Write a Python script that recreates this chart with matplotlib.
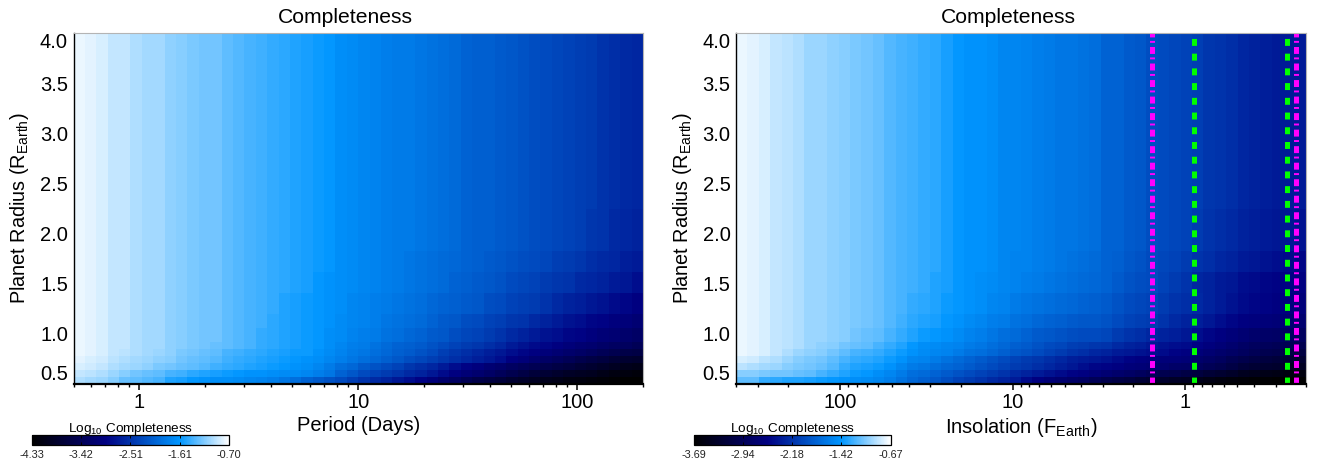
import numpy as np
import matplotlib
matplotlib.use("Agg")
import matplotlib.pyplot as plt
from matplotlib.colors import LinearSegmentedColormap, Normalize
from matplotlib.cm import ScalarMappable
from matplotlib.ticker import FixedLocator, NullFormatter, FixedFormatter

plt.rcParams["font.family"] = ["Liberation Sans", "DejaVu Sans"]
plt.rcParams["mathtext.default"] = "regular"
plt.rcParams["lines.scale_dashes"] = False

W, H = 1318, 468

# colour bar ranges and labels
LEFT_RANGE = (-4.33, -0.70)
RIGHT_RANGE = (-3.69, -0.67)
LEFT_CB_LABELS = ["-4.33", "-3.42", "-2.51", "-1.61", "-0.70"]
RIGHT_CB_LABELS = ["-3.69", "-2.94", "-2.18", "-1.42", "-0.67"]

# axis ranges
PERIOD_LIM = (0.5, 200)
INSOL_LIM = (400, 0.2)
RADIUS_LIM = (0.5, 4.0)
N_COLS = 50
RADIUS_STEP = 0.07

# first row of the grid covered by each band below (grid has 50 rows)
BAND_ROWS = [0, 1, 2, 3, 4, 5, 6, 8, 10, 13, 16, 19, 25, 50]

# completeness read as % position along the colour bar, bottom band first
LEFT_PCT = [
    [92, 91, 90, 88, 85, 84, 83, 82, 78, 77, 75, 74, 73, 73, 72, 71, 70, 69, 67, 65, 62, 60, 58, 56, 53, 50, 48, 46, 43, 41, 38, 35, 31, 28, 24, 21, 19, 17, 14, 12, 10, 8, 7, 5, 4, 3, 2, 1, 0, 0],
    [94, 93, 92, 90, 88, 86, 85, 84, 82, 81, 79, 78, 77, 76, 75, 74, 74, 73, 72, 72, 71, 69, 67, 62, 59, 56, 54, 52, 50, 48, 46, 43, 40, 37, 34, 32, 29, 26, 23, 20, 17, 15, 13, 11, 10, 9, 7, 5, 4, 3],
    [96, 95, 94, 92, 91, 90, 89, 87, 86, 85, 84, 83, 81, 80, 79, 78, 77, 76, 75, 74, 73, 71, 68, 65, 63, 60, 58, 56, 54, 51, 49, 47, 44, 41, 38, 36, 33, 31, 28, 26, 24, 22, 20, 18, 16, 14, 12, 10, 8, 7],
    [97, 96, 95, 93, 92, 91, 90, 89, 88, 86, 85, 84, 83, 81, 80, 79, 78, 77, 76, 75, 74, 73, 71, 69, 67, 65, 63, 61, 59, 57, 55, 53, 51, 49, 47, 45, 43, 41, 37, 35, 32, 29, 27, 25, 22, 20, 18, 16, 14, 13],
    [98, 97, 96, 94, 93, 92, 91, 90, 89, 87, 86, 85, 84, 82, 81, 80, 79, 78, 77, 76, 76, 74, 72, 70, 68, 67, 65, 63, 61, 60, 58, 56, 53, 51, 49, 47, 45, 43, 41, 39, 37, 35, 33, 31, 29, 27, 25, 23, 21, 20],
    [98, 97, 96, 94, 94, 92, 91, 91, 89, 88, 87, 86, 85, 84, 83, 82, 80, 79, 78, 77, 76, 75, 73, 71, 69, 68, 66, 64, 62, 61, 60, 58, 56, 54, 52, 51, 49, 47, 44, 42, 40, 39, 37, 35, 33, 32, 30, 28, 27, 25],
    [98, 97, 96, 94, 94, 92, 91, 91, 89, 88, 87, 86, 86, 84, 83, 82, 80, 79, 78, 77, 76, 75, 73, 72, 70, 69, 68, 66, 65, 63, 62, 60, 59, 57, 55, 54, 52, 50, 48, 46, 44, 42, 41, 39, 38, 36, 34, 33, 31, 29],
    [98, 97, 96, 94, 94, 92, 91, 91, 89, 88, 87, 86, 86, 84, 83, 82, 81, 79, 78, 77, 76, 75, 74, 72, 71, 70, 69, 67, 66, 65, 64, 62, 60, 59, 57, 56, 54, 53, 51, 50, 48, 46, 44, 42, 41, 39, 38, 36, 35, 33],
    [98, 97, 96, 94, 94, 92, 91, 91, 89, 88, 87, 86, 86, 84, 83, 82, 81, 80, 78, 77, 76, 75, 74, 73, 71, 70, 69, 68, 67, 66, 65, 63, 62, 61, 60, 59, 57, 56, 54, 53, 52, 50, 48, 46, 45, 43, 42, 40, 39, 37],
    [98, 97, 96, 94, 94, 92, 91, 91, 89, 88, 87, 86, 86, 84, 83, 82, 81, 80, 79, 78, 77, 75, 74, 73, 72, 71, 70, 69, 68, 67, 66, 65, 64, 62, 61, 60, 59, 58, 56, 55, 54, 52, 51, 50, 48, 47, 46, 44, 43, 41],
    [98, 97, 96, 94, 94, 92, 91, 91, 89, 88, 87, 86, 86, 84, 83, 82, 81, 80, 79, 78, 77, 76, 75, 73, 72, 71, 70, 69, 68, 67, 66, 65, 64, 63, 62, 61, 60, 59, 58, 57, 56, 55, 53, 52, 51, 49, 48, 47, 45, 44],
    [98, 97, 96, 94, 94, 92, 91, 91, 89, 88, 87, 86, 86, 84, 83, 82, 81, 80, 79, 78, 77, 76, 75, 73, 72, 71, 70, 69, 68, 68, 67, 66, 65, 64, 62, 61, 61, 60, 59, 58, 57, 56, 55, 54, 53, 51, 50, 48, 47, 46],
    [98, 97, 96, 94, 94, 92, 91, 91, 89, 88, 87, 86, 86, 84, 83, 82, 81, 80, 79, 78, 77, 76, 75, 73, 72, 71, 70, 69, 68, 68, 67, 66, 65, 64, 62, 61, 61, 60, 59, 58, 57, 56, 55, 54, 53, 52, 50, 49, 48, 47],
]

RIGHT_PCT = [
    [84, 84, 80, 79, 78, 78, 77, 76, 75, 74, 73, 72, 71, 69, 66, 63, 61, 59, 57, 54, 52, 50, 48, 46, 44, 40, 37, 34, 32, 30, 28, 25, 22, 20, 18, 16, 14, 13, 11, 10, 8, 6, 4, 3, 2, 1, 1, 0, 0, 0],
    [88, 88, 87, 86, 86, 85, 84, 82, 80, 78, 76, 75, 73, 71, 68, 65, 64, 62, 60, 58, 56, 54, 52, 50, 48, 46, 44, 42, 40, 38, 37, 35, 33, 31, 29, 27, 25, 23, 22, 20, 18, 16, 14, 12, 9, 8, 7, 6, 5, 4],
    [93, 92, 91, 90, 88, 87, 86, 85, 83, 80, 78, 77, 76, 74, 71, 68, 67, 65, 63, 62, 60, 58, 56, 54, 52, 51, 49, 47, 45, 43, 41, 39, 38, 37, 35, 34, 33, 32, 30, 29, 27, 25, 23, 20, 17, 15, 14, 13, 11, 10],
    [96, 95, 93, 92, 90, 88, 87, 86, 84, 82, 80, 79, 78, 76, 74, 71, 70, 68, 66, 64, 62, 60, 58, 56, 54, 52, 51, 49, 47, 45, 44, 43, 42, 40, 38, 37, 36, 35, 35, 34, 31, 29, 27, 24, 22, 20, 18, 17, 15, 14],
    [98, 97, 96, 94, 92, 90, 89, 88, 86, 84, 82, 81, 80, 78, 76, 74, 72, 71, 70, 68, 66, 65, 63, 61, 59, 58, 56, 54, 52, 50, 49, 47, 46, 44, 43, 42, 41, 40, 38, 37, 35, 33, 31, 29, 27, 25, 23, 22, 20, 19],
    [98, 97, 96, 94, 93, 92, 90, 89, 88, 86, 85, 84, 82, 80, 78, 75, 73, 72, 71, 70, 68, 67, 65, 63, 61, 60, 58, 56, 55, 53, 52, 51, 50, 48, 46, 45, 43, 42, 41, 40, 38, 36, 34, 32, 29, 27, 26, 25, 24, 23],
    [98, 97, 96, 94, 93, 92, 90, 90, 89, 88, 86, 85, 84, 82, 80, 78, 76, 75, 74, 72, 70, 69, 67, 65, 64, 62, 60, 59, 58, 57, 56, 56, 55, 52, 50, 49, 47, 46, 45, 43, 41, 39, 37, 35, 33, 31, 30, 29, 28, 27],
    [98, 97, 96, 94, 93, 92, 90, 90, 89, 88, 87, 86, 85, 83, 81, 79, 78, 77, 75, 74, 72, 71, 69, 68, 66, 65, 63, 62, 61, 60, 59, 59, 58, 56, 54, 53, 52, 50, 48, 46, 45, 43, 41, 39, 37, 36, 35, 34, 33, 32],
    [98, 97, 96, 94, 93, 92, 90, 90, 89, 88, 87, 86, 85, 83, 82, 80, 79, 78, 76, 75, 74, 73, 71, 70, 68, 67, 66, 65, 64, 63, 62, 61, 60, 58, 56, 55, 54, 52, 50, 49, 48, 46, 44, 42, 40, 39, 38, 37, 36, 35],
    [98, 97, 96, 94, 93, 92, 90, 90, 89, 88, 87, 86, 85, 83, 82, 81, 80, 78, 77, 75, 74, 73, 72, 71, 70, 69, 68, 67, 66, 65, 64, 63, 62, 60, 58, 57, 56, 54, 52, 50, 47, 46, 44, 43, 41, 40, 39, 38, 38, 37],
    [98, 97, 96, 94, 93, 92, 90, 90, 89, 88, 87, 86, 85, 83, 82, 81, 80, 79, 77, 75, 74, 74, 73, 71, 70, 70, 69, 68, 67, 66, 65, 64, 62, 61, 59, 58, 56, 55, 54, 52, 50, 49, 47, 46, 44, 43, 42, 41, 40, 39],
    [98, 97, 96, 94, 93, 92, 90, 90, 89, 88, 87, 86, 85, 83, 82, 81, 80, 79, 77, 75, 74, 74, 73, 71, 71, 70, 69, 68, 67, 67, 66, 65, 62, 62, 60, 59, 57, 56, 55, 54, 52, 50, 49, 48, 46, 45, 44, 43, 43, 42],
    [98, 97, 96, 94, 93, 92, 90, 90, 89, 88, 87, 86, 85, 83, 82, 81, 80, 79, 77, 75, 74, 74, 73, 71, 71, 70, 69, 68, 67, 67, 66, 65, 62, 62, 60, 59, 57, 56, 55, 54, 53, 51, 50, 49, 47, 46, 45, 44, 44, 44],
]

# vertical limits on the insolation panel
MAGENTA_LINES = [1.56, 0.230]
GREEN_LINES = [0.89, 0.256]

RADIUS_TICKS = [0.5, 1.0, 1.5, 2.0, 2.5, 3.0, 3.5, 4.0]

CMAP = LinearSegmentedColormap.from_list("completeness", [
    (0.0, (0, 0, 0)),
    (0.375, (0, 0, 130 / 255)),
    (0.5, (0, 50 / 255, 170 / 255)),
    (0.75, (0, 150 / 255, 1)),
    (1.0, (1, 1, 1)),
])


def px_axes(fig, x0, y0, x1, y1):
    # rectangle given in image pixels, y from the top
    return fig.add_axes([x0 / W, 1 - y1 / H, (x1 - x0) / W, (y1 - y0) / H])


def panel(fig, box, pct, vrange, xlim, xlabel, major, labels):
    ax = px_axes(fig, *box)
    vals = vrange[0] + (vrange[1] - vrange[0]) * np.array(pct) / 100.0
    xedges = np.geomspace(xlim[0], xlim[1], N_COLS + 1)
    yedges = RADIUS_LIM[0] + RADIUS_STEP * np.array(BAND_ROWS)
    ax.pcolormesh(xedges, yedges, vals, cmap=CMAP, vmin=vrange[0], vmax=vrange[1])
    ax.set_xscale("log")
    ax.set_xlim(*xlim)
    ax.set_ylim(*RADIUS_LIM)
    ax.xaxis.set_major_locator(FixedLocator(major))
    ax.xaxis.set_major_formatter(FixedFormatter(labels))
    ax.xaxis.set_minor_formatter(NullFormatter())
    ax.set_yticks(RADIUS_TICKS)
    ax.set_yticklabels([f"{t:.1f}" for t in RADIUS_TICKS])
    ax.get_yticklabels()[0].set_va("bottom")
    ax.get_yticklabels()[-1].set_va("top")
    ax.tick_params(axis="x", which="major", length=4.5, width=1.1, pad=2, labelsize=14.5)
    ax.tick_params(axis="x", which="minor", length=2.2, width=1.0)
    ax.tick_params(axis="y", length=0, pad=4, labelsize=14.5)
    ax.spines["left"].set_linewidth(1.0)
    ax.spines["bottom"].set_linewidth(1.6)
    for side in ["top", "right"]:
        ax.spines[side].set_color("#b4b4b4")
        ax.spines[side].set_linewidth(0.8)
    ax.set_title("Completeness", fontsize=15.2, pad=7, x=0.477)
    ax.set_xlabel(xlabel, fontsize=14.5, labelpad=3)
    ax.set_ylabel(r"Planet Radius (R$_{Earth}$)", fontsize=14.3, labelpad=6.2)
    return ax


def colorbar(fig, box, vrange, labels):
    cax = px_axes(fig, *box)
    ticks = np.linspace(vrange[0], vrange[1], len(labels))
    sm = ScalarMappable(norm=Normalize(*vrange), cmap=CMAP)
    cb = fig.colorbar(sm, cax=cax, orientation="horizontal")
    cb.set_ticks(ticks, labels=labels)
    cb.minorticks_off()
    cax.tick_params(axis="x", direction="in", top=True, length=2, width=0.7,
                    labelsize=7.8, pad=3.5, labelcolor="#222222")
    cb.outline.set_linewidth(0.9)
    cax.set_title(r"Log$_{10}$ Completeness", fontsize=9.7, pad=2.5)


fig = plt.figure(figsize=(W / 100, H / 100), dpi=100, facecolor="white")

ax1 = panel(fig, (73.5, 33, 643, 384), LEFT_PCT, LEFT_RANGE, PERIOD_LIM,
            "Period (Days)", [1, 10, 100], ["1", "10", "100"])
ax2 = panel(fig, (736, 33, 1306, 384), RIGHT_PCT, RIGHT_RANGE, INSOL_LIM,
            r"Insolation (F$_{Earth}$)", [100, 10, 1], ["100", "10", "1"])

for xv in GREEN_LINES:
    ax2.plot([xv, xv], RADIUS_LIM, color="#00ff00", linewidth=3.6,
             linestyle=(0, (5.0, 5.6)), dash_capstyle="butt")
for xv in MAGENTA_LINES:
    ax2.plot([xv, xv], RADIUS_LIM, color="#ff00ff", linewidth=3.6,
             linestyle=(0, (5.0, 3.0, 1.4, 2.5)), dash_capstyle="butt")

colorbar(fig, (32, 435, 229, 445), LEFT_RANGE, LEFT_CB_LABELS)
colorbar(fig, (694, 435, 890.5, 445), RIGHT_RANGE, RIGHT_CB_LABELS)

fig.savefig("out.png", dpi=100, facecolor="white")
